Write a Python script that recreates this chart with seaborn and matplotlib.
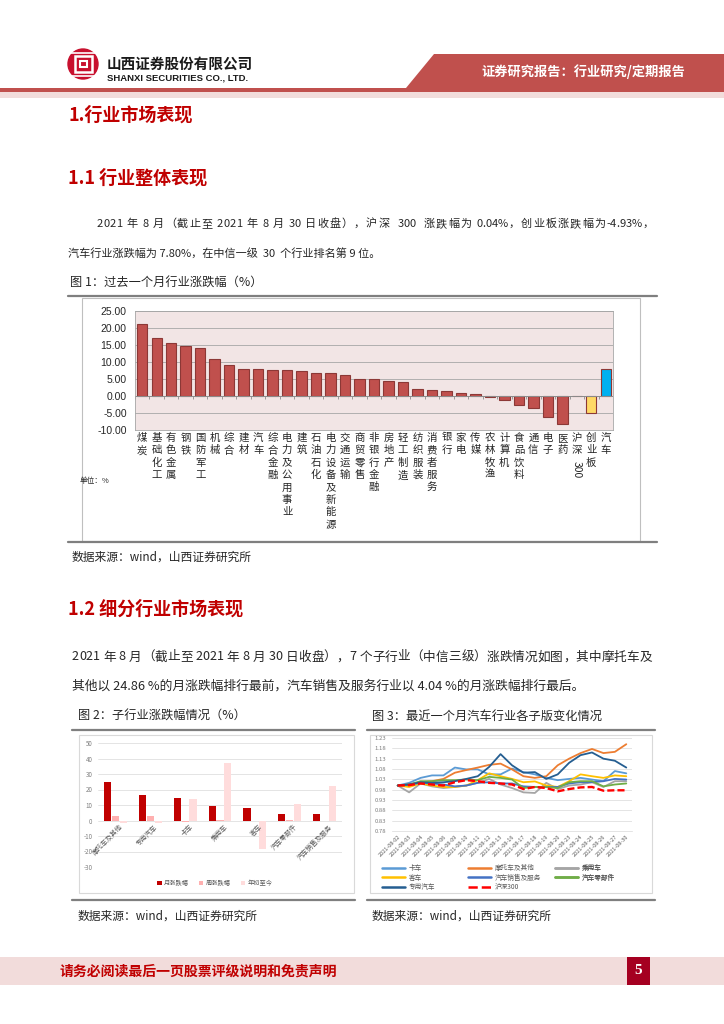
import numpy as np
import pandas as pd
import matplotlib
matplotlib.use('Agg')
import matplotlib.pyplot as plt
import seaborn as sns
from matplotlib.patches import Rectangle, Polygon, Circle
from matplotlib.lines import Line2D

# ---- data: figure 1, industry returns over the past month (%) ----
industries = ['煤炭', '基础化工', '有色金属', '钢铁', '国防军工', '机械', '综合', '建材',
              '汽车', '综合金融', '电力及公用事业', '建筑', '石油石化', '电力设备及新能源',
              '交通运输', '商贸零售', '非银行金融', '房地产', '轻工制造', '纺织服装',
              '消费者服务', '银行', '家电', '传媒', '农林牧渔', '计算机', '食品饮料',
              '通信', '电子', '医药', '沪深300', '创业板', '汽车']
industry_returns = [21.1, 17.0, 15.7, 14.7, 14.1, 10.9, 9.2, 8.0, 7.9, 7.6, 7.6, 7.4,
                    6.8, 6.8, 6.3, 5.0, 4.9, 4.4, 4.1, 2.0, 1.7, 1.5, 0.8, 0.6, -0.3,
                    -1.3, -2.7, -3.6, -6.3, -8.2, 0.04, -4.93, 7.80]
industry_group = ['行业'] * 30 + ['沪深300', '创业板', '汽车指数']

# ---- data: figure 2, sub-industry returns (%) ----
sub_names = ['摩托车及其他', '专用汽车', '卡车', '乘用车', '客车', '汽车零部件', '汽车销售及服务']
month_chg = [24.86, 16.3, 14.3, 9.1, 7.8, 4.2, 4.04]
week_chg = [3.0, 3.0, -1.2, 0.6, -0.3, 0.5, -0.3]
ytd_chg = [-1.5, -1.5, 14.0, 37.0, -18.5, 10.8, 22.3]
metric_names = ['月涨跌幅', '周涨跌幅', '年初至今']

# ---- data: figure 3, sub-index levels over the last month ----
dates = ['2021-08-02', '2021-08-03', '2021-08-04', '2021-08-05', '2021-08-06',
         '2021-08-09', '2021-08-10', '2021-08-11', '2021-08-12', '2021-08-13',
         '2021-08-16', '2021-08-17', '2021-08-18', '2021-08-19', '2021-08-20',
         '2021-08-23', '2021-08-24', '2021-08-25', '2021-08-26', '2021-08-27',
         '2021-08-30']
truck = [1.000, 1.013, 1.037, 1.049, 1.049, 1.087, 1.078, 1.078, 1.054, 1.054, 1.082,
         1.065, 1.054, 1.037, 1.026, 1.032, 1.037, 1.029, 1.021, 1.070, 1.059]
moto = [1.000, 1.005, 1.016, 1.021, 1.032, 1.062, 1.075, 1.087, 1.100, 1.106, 1.078,
        1.045, 1.037, 1.045, 1.098, 1.130, 1.157, 1.177, 1.157, 1.163, 1.200]
passenger = [1.000, 0.967, 1.010, 0.996, 0.988, 0.993, 1.000, 1.013, 1.032, 1.005, 0.988,
             0.967, 0.964, 1.013, 0.983, 1.000, 1.005, 1.016, 0.993, 1.021, 1.021]
bus = [1.000, 0.993, 1.010, 1.000, 0.993, 0.993, 1.000, 1.026, 1.059, 1.045, 1.032,
       1.016, 1.020, 1.000, 0.993, 1.021, 1.054, 1.045, 1.037, 1.049, 1.045]
sales = [1.000, 1.005, 1.013, 1.010, 1.005, 0.996, 1.000, 1.013, 1.016, 1.010, 1.010,
         0.996, 0.993, 0.993, 0.993, 1.010, 1.016, 1.016, 1.021, 1.032, 1.029]
parts = [1.000, 1.005, 1.021, 1.021, 1.026, 1.026, 1.029, 1.026, 1.042, 1.037, 1.029,
         0.988, 0.993, 0.993, 0.988, 1.016, 1.021, 1.021, 0.996, 1.005, 1.010]
special = [1.000, 1.005, 1.016, 1.013, 1.016, 1.021, 1.032, 1.045, 1.090, 1.152, 1.098,
           1.062, 1.065, 1.032, 1.054, 1.110, 1.147, 1.160, 1.130, 1.120, 1.087]
hs300 = [1.000, 1.002, 1.010, 1.005, 1.000, 1.016, 1.026, 1.021, 1.013, 1.010, 1.005,
         0.983, 0.993, 0.988, 0.972, 0.983, 0.991, 0.993, 0.975, 0.977, 0.977]
line_names = ['卡车', '摩托车及其他', '乘用车', '客车', '汽车销售及服务', '汽车零部件', '专用汽车', '沪深300']
line_colors = ['#5B9BD5', '#ED7D31', '#A5A5A5', '#FFC000', '#4472C4', '#70AD47', '#255E91', '#FF0000']

# ---- style ----
sns.set_style('white')
plt.rcParams['font.family'] = ['Noto Sans CJK SC', 'DejaVu Sans']
plt.rcParams['axes.unicode_minus'] = False

W, H = 724, 1024
RED = '#C00000'


def rect(x0, y0, x1, y1):
    return [x0 / W, 1 - y1 / H, (x1 - x0) / W, (y1 - y0) / H]


fig = plt.figure(figsize=(W / 100, H / 100), dpi=100)
bg = fig.add_axes([0, 0, 1, 1])
bg.set_xlim(0, W)
bg.set_ylim(H, 0)
bg.axis('off')
renderer = fig.canvas.get_renderer()


def text_width(s, size):
    t = bg.text(0, 0, s, fontsize=size)
    w = t.get_window_extent(renderer).width
    t.remove()
    return w


def justified(x0, x1, y, s, size):
    # spread one line over x0..x1; extra space goes only next to CJK chars and blanks
    space = text_width('a a', size) - text_width('aa', size)
    widths = [space if c == ' ' else text_width(c, size) for c in s]
    weights = [0 if (a.isascii() and b.isascii() and a != ' ' and b != ' ') else 1
               for a, b in zip(s[:-1], s[1:])]
    extra = (x1 - x0 - sum(widths)) / sum(weights)
    x = x0
    for i, c in enumerate(s):
        if c != ' ':
            bg.text(x, y, c, fontsize=size, va='center')
        x += widths[i] + (extra * weights[i] if i < len(weights) else 0)


# header
bg.add_patch(Polygon([(434, 54), (W, 54), (W, 88), (406, 88)], color='#C0504D', lw=0))
bg.add_patch(Rectangle((0, 88), W, 4, color='#C0504D', lw=0))
bg.add_patch(Rectangle((0, 92), W, 6, color='#F2DCDB', lw=0))
bg.add_patch(Circle((83, 64), 15, color='#C8102E'))
bg.add_patch(Rectangle((74.5, 56), 17, 16, fill=False, ec='white', lw=1.8))
bg.add_patch(Rectangle((79.5, 61), 7, 6, fill=False, ec='white', lw=1.5))
bg.plot([70, 96], [52.5, 52.5], color='white', lw=1.2)
bg.plot([70, 96], [75.5, 75.5], color='white', lw=1.2)
bg.text(107, 64, '山西证券股份有限公司', fontsize=10.5, fontweight='bold', va='center', color='#1A1A1A')
bg.text(107, 78, 'SHANXI SECURITIES CO., LTD.', fontsize=6.8, fontweight='bold', va='center',
        family='Liberation Sans', color='#1A1A1A')
bg.text(583, 72, '证券研究报告：行业研究/定期报告', fontsize=9.5, fontweight='bold', color='white',
        ha='center', va='center')

# headings and body text
bg.text(68, 115, '1.行业市场表现', fontsize=13, fontweight='bold', color=RED, va='center')
bg.text(68, 178, '1.1 行业整体表现', fontsize=13, fontweight='bold', color=RED, va='center')
justified(97, 654, 224, '2021 年 8 月（截止至 2021 年 8 月 30 日收盘），沪深  300  涨跌幅为 0.04%，创业板涨跌幅为-4.93%，', 8)
bg.text(68, 253, '汽车行业涨跌幅为 7.80%，在中信一级  30  个行业排名第 9 位。', fontsize=8, va='center')
bg.text(70, 283, '图 1：过去一个月行业涨跌幅（%）', fontsize=8.8, fontweight='medium', va='center')
bg.plot([68, 657], [296, 296], color='#7F7F7F', lw=1.6)
bg.add_patch(Rectangle((82, 298), 558, 243, fill=False, ec='#BFBFBF', lw=0.8))
bg.plot([68, 657], [542, 542], color='#7F7F7F', lw=1.6)
bg.text(72, 557, '数据来源：wind，山西证券研究所', fontsize=8.5, fontweight='medium', va='center')
bg.text(80, 481, '单位：%', fontsize=5.5, va='center')

bg.text(68, 609, '1.2 细分行业市场表现', fontsize=13, fontweight='bold', color=RED, va='center')
justified(72, 652, 657, '2021 年 8 月（截止至 2021 年 8 月 30 日收盘），7 个子行业（中信三级）涨跌情况如图，其中摩托车及', 9.1)
bg.text(72, 686, '其他以 24.86 %的月涨跌幅排行最前，汽车销售及服务行业以 4.04 %的月涨跌幅排行最后。',
        fontsize=9.2, va='center')
bg.text(78, 716, '图 2：子行业涨跌幅情况（%）', fontsize=8.8, fontweight='medium', va='center')
bg.text(372, 716, '图 3：最近一个月汽车行业各子版变化情况', fontsize=8.8, fontweight='medium', va='center')
for x0, x1 in [(72, 355), (367, 655)]:
    bg.plot([x0, x1], [730, 730], color='#7F7F7F', lw=1.6)
    bg.plot([x0, x1], [900, 900], color='#7F7F7F', lw=1.6)
bg.add_patch(Rectangle((79, 735), 275, 158, fill=False, ec='#D9D9D9', lw=0.8))
bg.add_patch(Rectangle((370, 735), 282, 158, fill=False, ec='#D9D9D9', lw=0.8))
bg.text(78, 916, '数据来源：wind，山西证券研究所', fontsize=8.5, fontweight='medium', va='center')
bg.text(372, 916, '数据来源：wind，山西证券研究所', fontsize=8.5, fontweight='medium', va='center')

# footer
bg.add_patch(Rectangle((0, 957), W, 28, color='#F2DCDB', lw=0))
bg.text(60, 971, '请务必阅读最后一页股票评级说明和免责声明', fontsize=10, fontweight='bold', color=RED, va='center')
bg.add_patch(Rectangle((627, 957), 23, 28, color='#A50021', lw=0))
bg.text(638.5, 971, '5', fontsize=11, fontweight='bold', color='white', ha='center', va='center',
        family='Liberation Serif')

# ---- figure 1: industry bar chart ----
ax1 = fig.add_axes(rect(135, 311, 613, 430))
df1 = pd.DataFrame({'pos': range(len(industries)), 'ret': industry_returns, 'grp': industry_group})
sns.barplot(data=df1, x='pos', y='ret', hue='grp', dodge=False, width=0.72, saturation=1,
            palette={'行业': '#C0504D', '沪深300': '#C0504D', '创业板': '#FFD966', '汽车指数': '#00B0F0'},
            edgecolor='#8C3836', linewidth=0.8, legend=False, ax=ax1)
ax1.set_facecolor('#F2E5E5')
ax1.set_ylim(-10, 25)
ax1.set_xlim(-0.5, len(industries) - 0.5)
ax1.set_yticks(np.arange(-10, 26, 5))
ax1.set_yticklabels([f'{v:.2f}' for v in np.arange(-10, 26, 5)], family='Liberation Sans', fontsize=7.5)
ax1.yaxis.grid(True, color='#A6A6A6', lw=0.6)
ax1.set_axisbelow(True)
ax1.axhline(0, color='#8C8C8C', lw=0.7, zorder=1)
ax1.vlines(np.arange(-0.5, len(industries)), -0.8, 0, color='#8C8C8C', lw=0.6, zorder=1)
for s in ax1.spines.values():
    s.set_color('#A6A6A6')
    s.set_linewidth(0.6)
tick_text = ['沪\n深' if n == '沪深300' else '\n'.join(n) for n in industries]
ax1.set_xticks(range(len(industries)))
ax1.set_xticklabels(tick_text, fontsize=7.5, linespacing=1.3, va='top')
ax1.tick_params(axis='x', length=0, pad=2)
ax1.tick_params(axis='y', length=0, pad=6)
ax1.set_xlabel('')
ax1.set_ylabel('')
ax1.annotate('300', xy=(industries.index('沪深300'), 0), xycoords=('data', 'axes fraction'),
             xytext=(0, -22.5), textcoords='offset points', rotation=-90, ha='center', va='top',
             fontsize=7.5)

# ---- figure 2: sub-industry grouped bars ----
ax2 = fig.add_axes(rect(98, 743, 342, 867))
df2 = pd.DataFrame({'name': sub_names * 3,
                    'metric': np.repeat(metric_names, len(sub_names)),
                    'value': month_chg + week_chg + ytd_chg})
sns.barplot(data=df2, x='name', y='value', hue='metric', order=sub_names, hue_order=metric_names,
            palette=['#C00000', '#FFB0B0', '#FFDCDC'], width=0.68, gap=0.1, saturation=1,
            linewidth=0, ax=ax2)
ax2.set_ylim(-30, 50)
ax2.set_yticks(range(-30, 51, 10))
ax2.tick_params(axis='y', labelsize=4.5, labelcolor='#7F7F7F', length=0, pad=4)
ax2.yaxis.grid(True, color='#D9D9D9', lw=0.5)
ax2.set_axisbelow(True)
sns.despine(ax=ax2, left=True, bottom=True)
ax2.set_xticks(range(len(sub_names)))
ax2.set_xticklabels([])
ax2.tick_params(axis='x', length=0)
ax2.set_xlabel('')
ax2.set_ylabel('')
for i, n in enumerate(sub_names):
    ax2.text(i + 0.1, -1.5, n, rotation=45, ha='right', va='top', rotation_mode='anchor',
             fontsize=4.8, color='#595959')
ax2.legend(loc='center', bbox_to_anchor=(215 / W, 1 - 883 / H), bbox_transform=fig.transFigure,
           ncol=3, fontsize=4.5, frameon=False, handlelength=0.7, handleheight=0.7,
           columnspacing=1.6, handletextpad=0.4, labelcolor='#595959')

# ---- figure 3: sub-index lines ----
ax3 = fig.add_axes(rect(392, 738, 632, 831))
series_values = [truck, moto, passenger, bus, sales, parts, special, hs300]
df3 = pd.DataFrame({'idx': np.tile(np.arange(len(dates)), len(line_names)),
                    'series': np.repeat(line_names, len(dates)),
                    'value': np.concatenate(series_values)})
dash_map = {n: '' for n in line_names}
dash_map['沪深300'] = (3, 1.3)
sns.lineplot(data=df3, x='idx', y='value', hue='series', style='series', hue_order=line_names,
             style_order=line_names, palette=dict(zip(line_names, line_colors)), dashes=dash_map,
             linewidth=1.3, legend=False, ax=ax3)
ax3.lines[-1].set_linewidth(1.7)
ax3.set_xlim(-0.5, len(dates) - 0.5)
ax3.set_ylim(0.78, 1.23)
yt = np.arange(0.78, 1.2301, 0.05)
ax3.set_yticks(yt)
ax3.set_yticklabels([f'{v:.2f}' for v in yt])
ax3.tick_params(axis='y', labelsize=4.3, labelcolor='#7F7F7F', length=0, pad=4)
ax3.yaxis.grid(True, color='#D9D9D9', lw=0.5)
ax3.set_axisbelow(True)
sns.despine(ax=ax3, left=True)
ax3.spines['bottom'].set_color('#D9D9D9')
ax3.spines['bottom'].set_linewidth(0.5)
ax3.set_xticks(range(len(dates)))
ax3.set_xticklabels(dates, rotation=45, ha='right', rotation_mode='anchor', fontsize=4)
ax3.tick_params(axis='x', length=0, pad=2, labelcolor='#595959')
ax3.set_xlabel('')
ax3.set_ylabel('')
handles = [Line2D([], [], color=c, lw=1.8, ls='--' if n == '沪深300' else '-')
           for n, c in zip(line_names, line_colors)]
legend_cols = [[0, 3, 6], [1, 4, 7], [2, 5]]
for col_x, col in zip([381, 467, 554], legend_cols):
    leg = ax3.legend([handles[k] for k in col], [line_names[k] for k in col], loc='upper left',
                     bbox_to_anchor=(col_x / W, 1 - 863 / H), bbox_transform=fig.transFigure,
                     fontsize=4.8, frameon=False, handlelength=3.4, handletextpad=0.6,
                     labelspacing=0.22, labelcolor='#595959', borderaxespad=0, borderpad=0.2)
    ax3.add_artist(leg)

fig.savefig('out.png', dpi=100)
